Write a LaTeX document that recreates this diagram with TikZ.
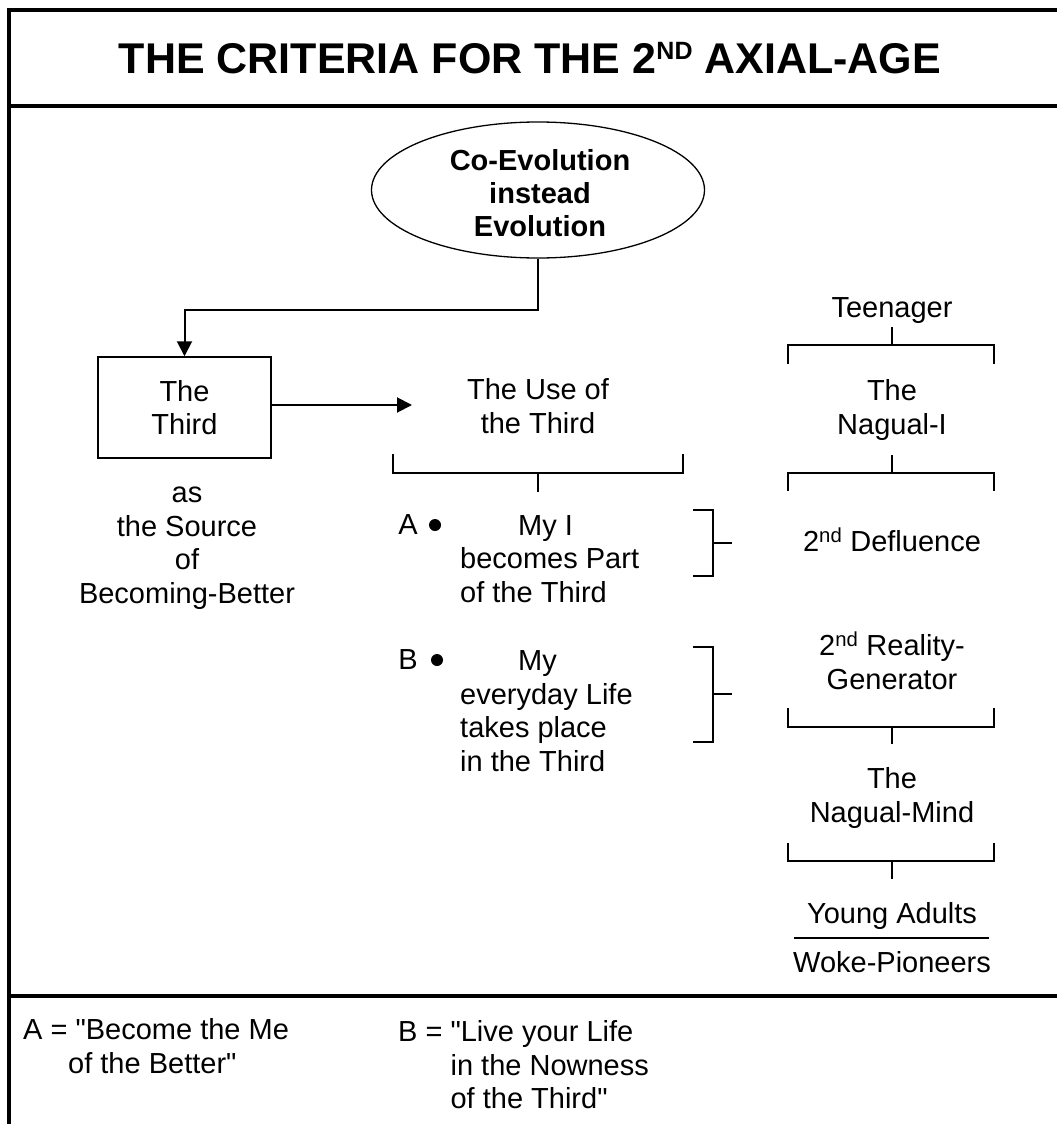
\documentclass[tikz,border=0pt]{standalone}
\usepackage{fontspec}
\setmainfont{Liberation Sans}
\usetikzlibrary{shapes.geometric,arrows.meta}
\begin{document}
\begin{tikzpicture}[x=1pt,y=-1pt,
  txt/.style={font=\fontsize{29}{33.5}\selectfont, inner sep=0pt, align=center},
  frame/.style={line width=3.5pt},
  conn/.style={line width=2pt, -{Triangle[length=15pt,width=15pt]}},
  brk/.style={line width=1.5pt},
  dot/.style={circle, fill, inner sep=0pt, minimum size=12pt},
]
\useasboundingbox (0,0) rectangle (1057,1124);
% frame
\draw[frame] (1070,10) -- (9,10) -- (9,1130);
\draw[frame] (9,106) -- (1070,106);
\draw[frame] (9,996) -- (1070,996);
% title
\node[inner sep=0pt, font=\fontsize{43}{49}\selectfont\bfseries] (title) at (530,58) {THE CRITERIA FOR THE 2\raisebox{0.32em}{\fontsize{25}{25}\selectfont ND} AXIAL-AGE};
% ellipse
\node[ellipse, draw, line width=1.3pt, minimum width=333pt, minimum height=136pt, inner sep=0pt] (evo) at (538,190) {};
\node[txt, font=\fontsize{29}{33}\selectfont\bfseries] (evotxt) at (540,193) {Co-Evolution\\instead\\Evolution};
% the third
\node[txt, draw, line width=1.5pt, minimum width=173pt, minimum height=101pt] (third) at (184.5,407.5) {The\\Third};
\draw[conn] (evo.south) -- ++(0,51) -| (third.north);
\node[txt] (source) at (187,548) {as\\the Source\\of\\Becoming-Better};
% use of the third
\node[txt] (use) at (538,406) {The Use of\\the Third};
\coordinate (usein) at (412,405);
\draw[conn] (third.east |- usein) -- (usein);
\draw[brk] (393,454) -- (393,473) -- (683,473) -- (683,454);
\draw[brk] (538,473) -- (538,492);
% A
\node[txt] (A) at (408,525) {A};
\node[dot] (bA) at (435,525) {};
\node[txt, align=left, anchor=west] (Atxt) at (460,559) {\hspace*{58pt}My I\\becomes Part\\of the Third};
\draw[brk] (693,510) -- (713,510) -- (713,576) -- (693,576);
\draw[brk] (713,543) -- (732,543);
% B
\node[txt] (B) at (408,660) {B};
\node[dot] (bB) at (437,660) {};
\node[txt, align=left, anchor=west] (Btxt) at (460,711) {\hspace*{58pt}My\\everyday Life\\takes place\\in the Third};
\draw[brk] (693,647) -- (713,647) -- (713,742) -- (693,742);
\draw[brk] (713,694) -- (732,694);
% right column
\node[txt] (teen) at (892,311) {Teenager};
\draw[brk] (892,327) -- (892,345);
\draw[brk] (788,364) -- (788,345) -- (994,345) -- (994,364);
\node[txt] (nagI) at (892,410) {The\\Nagual-I};
\draw[brk] (892,455) -- (892,473);
\draw[brk] (788,491) -- (788,473) -- (994,473) -- (994,491);
\node[txt] (defl) at (892,540) {2\textsuperscript{nd} Defluence};
\node[txt] (realg) at (892,661) {2\textsuperscript{nd} Reality-\\Generator};
\draw[brk] (788,708) -- (788,727) -- (994,727) -- (994,708);
\draw[brk] (892,727) -- (892,744);
\node[txt] (nagM) at (892,798) {The\\Nagual-Mind};
\draw[brk] (788,843) -- (788,861) -- (994,861) -- (994,843);
\draw[brk] (892,861) -- (892,879);
\node[txt] (young) at (892,916) {Young Adults};
\draw[brk] (794,938) -- (989,938);
\node[txt] (woke) at (892,962) {Woke-Pioneers};
% legend
\node[txt, align=left, anchor=west] (legA) at (23,1046) {A = \textquotedbl Become the Me\\\hspace*{45pt}of the Better\textquotedbl};
\node[txt, align=left, anchor=west] (legB) at (398,1065) {B = \textquotedbl Live your Life\\\phantom{B = }in the Nowness\\\phantom{B = }of the Third\textquotedbl};
\end{tikzpicture}
\end{document}
